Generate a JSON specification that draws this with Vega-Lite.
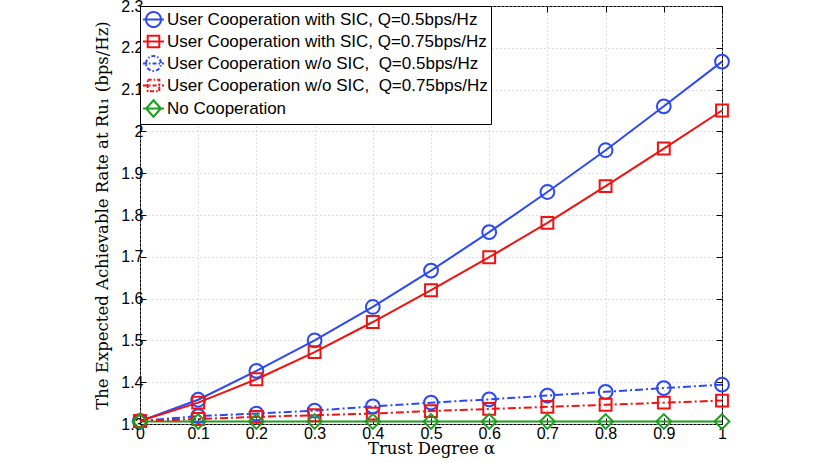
{
  "$schema": "https://vega.github.io/schema/vega-lite/v6.json",
  "width": 582,
  "height": 418,
  "autosize": {"type": "none"},
  "padding": {"left": 140, "top": 6, "right": 108, "bottom": 38},
  "background": "white",
  "config": {
    "view": {"stroke": "black", "strokeWidth": 1},
    "axis": {
      "labelFont": "Liberation Sans",
      "labelFontSize": 16,
      "labelColor": "black",
      "titleFont": "DejaVu Serif",
      "titleFontSize": 16.5,
      "titleFontWeight": "normal",
      "titleColor": "black",
      "domain": false,
      "tickColor": "black",
      "tickSize": -6,
      "gridColor": "#bdbdbd",
      "gridDash": [1, 3],
      "gridWidth": 1
    },
    "legend": {
      "labelFont": "Liberation Sans",
      "labelFontSize": 17,
      "labelColor": "black"
    }
  },
  "data": {
    "values": [
      {"alpha": 0.0, "series": "User Cooperation with SIC, Q=0.5bps/Hz", "rate": 1.307},
      {"alpha": 0.1, "series": "User Cooperation with SIC, Q=0.5bps/Hz", "rate": 1.358},
      {"alpha": 0.2, "series": "User Cooperation with SIC, Q=0.5bps/Hz", "rate": 1.427},
      {"alpha": 0.3, "series": "User Cooperation with SIC, Q=0.5bps/Hz", "rate": 1.500},
      {"alpha": 0.4, "series": "User Cooperation with SIC, Q=0.5bps/Hz", "rate": 1.580},
      {"alpha": 0.5, "series": "User Cooperation with SIC, Q=0.5bps/Hz", "rate": 1.667},
      {"alpha": 0.6, "series": "User Cooperation with SIC, Q=0.5bps/Hz", "rate": 1.759},
      {"alpha": 0.7, "series": "User Cooperation with SIC, Q=0.5bps/Hz", "rate": 1.855},
      {"alpha": 0.8, "series": "User Cooperation with SIC, Q=0.5bps/Hz", "rate": 1.955},
      {"alpha": 0.9, "series": "User Cooperation with SIC, Q=0.5bps/Hz", "rate": 2.060},
      {"alpha": 1.0, "series": "User Cooperation with SIC, Q=0.5bps/Hz", "rate": 2.167},
      {"alpha": 0.0, "series": "User Cooperation with SIC, Q=0.75bps/Hz", "rate": 1.307},
      {"alpha": 0.1, "series": "User Cooperation with SIC, Q=0.75bps/Hz", "rate": 1.351},
      {"alpha": 0.2, "series": "User Cooperation with SIC, Q=0.75bps/Hz", "rate": 1.407},
      {"alpha": 0.3, "series": "User Cooperation with SIC, Q=0.75bps/Hz", "rate": 1.472},
      {"alpha": 0.4, "series": "User Cooperation with SIC, Q=0.75bps/Hz", "rate": 1.544},
      {"alpha": 0.5, "series": "User Cooperation with SIC, Q=0.75bps/Hz", "rate": 1.620},
      {"alpha": 0.6, "series": "User Cooperation with SIC, Q=0.75bps/Hz", "rate": 1.699},
      {"alpha": 0.7, "series": "User Cooperation with SIC, Q=0.75bps/Hz", "rate": 1.781},
      {"alpha": 0.8, "series": "User Cooperation with SIC, Q=0.75bps/Hz", "rate": 1.869},
      {"alpha": 0.9, "series": "User Cooperation with SIC, Q=0.75bps/Hz", "rate": 1.959},
      {"alpha": 1.0, "series": "User Cooperation with SIC, Q=0.75bps/Hz", "rate": 2.050},
      {"alpha": 0.0, "series": "User Cooperation w/o SIC,\u00a0 Q=0.5bps/Hz", "rate": 1.307},
      {"alpha": 0.1, "series": "User Cooperation w/o SIC,\u00a0 Q=0.5bps/Hz", "rate": 1.319},
      {"alpha": 0.2, "series": "User Cooperation w/o SIC,\u00a0 Q=0.5bps/Hz", "rate": 1.325},
      {"alpha": 0.3, "series": "User Cooperation w/o SIC,\u00a0 Q=0.5bps/Hz", "rate": 1.332},
      {"alpha": 0.4, "series": "User Cooperation w/o SIC,\u00a0 Q=0.5bps/Hz", "rate": 1.342},
      {"alpha": 0.5, "series": "User Cooperation w/o SIC,\u00a0 Q=0.5bps/Hz", "rate": 1.351},
      {"alpha": 0.6, "series": "User Cooperation w/o SIC,\u00a0 Q=0.5bps/Hz", "rate": 1.359},
      {"alpha": 0.7, "series": "User Cooperation w/o SIC,\u00a0 Q=0.5bps/Hz", "rate": 1.368},
      {"alpha": 0.8, "series": "User Cooperation w/o SIC,\u00a0 Q=0.5bps/Hz", "rate": 1.377},
      {"alpha": 0.9, "series": "User Cooperation w/o SIC,\u00a0 Q=0.5bps/Hz", "rate": 1.386},
      {"alpha": 1.0, "series": "User Cooperation w/o SIC,\u00a0 Q=0.5bps/Hz", "rate": 1.394},
      {"alpha": 0.0, "series": "User Cooperation w/o SIC,\u00a0 Q=0.75bps/Hz", "rate": 1.307},
      {"alpha": 0.1, "series": "User Cooperation w/o SIC,\u00a0 Q=0.75bps/Hz", "rate": 1.312},
      {"alpha": 0.2, "series": "User Cooperation w/o SIC,\u00a0 Q=0.75bps/Hz", "rate": 1.317},
      {"alpha": 0.3, "series": "User Cooperation w/o SIC,\u00a0 Q=0.75bps/Hz", "rate": 1.321},
      {"alpha": 0.4, "series": "User Cooperation w/o SIC,\u00a0 Q=0.75bps/Hz", "rate": 1.325},
      {"alpha": 0.5, "series": "User Cooperation w/o SIC,\u00a0 Q=0.75bps/Hz", "rate": 1.331},
      {"alpha": 0.6, "series": "User Cooperation w/o SIC,\u00a0 Q=0.75bps/Hz", "rate": 1.336},
      {"alpha": 0.7, "series": "User Cooperation w/o SIC,\u00a0 Q=0.75bps/Hz", "rate": 1.341},
      {"alpha": 0.8, "series": "User Cooperation w/o SIC,\u00a0 Q=0.75bps/Hz", "rate": 1.346},
      {"alpha": 0.9, "series": "User Cooperation w/o SIC,\u00a0 Q=0.75bps/Hz", "rate": 1.351},
      {"alpha": 1.0, "series": "User Cooperation w/o SIC,\u00a0 Q=0.75bps/Hz", "rate": 1.356},
      {"alpha": 0.0, "series": "No Cooperation", "rate": 1.306},
      {"alpha": 0.1, "series": "No Cooperation", "rate": 1.306},
      {"alpha": 0.2, "series": "No Cooperation", "rate": 1.306},
      {"alpha": 0.3, "series": "No Cooperation", "rate": 1.306},
      {"alpha": 0.4, "series": "No Cooperation", "rate": 1.306},
      {"alpha": 0.5, "series": "No Cooperation", "rate": 1.306},
      {"alpha": 0.6, "series": "No Cooperation", "rate": 1.306},
      {"alpha": 0.7, "series": "No Cooperation", "rate": 1.306},
      {"alpha": 0.8, "series": "No Cooperation", "rate": 1.306},
      {"alpha": 0.9, "series": "No Cooperation", "rate": 1.306},
      {"alpha": 1.0, "series": "No Cooperation", "rate": 1.306}
    ]
  },
  "encoding": {
    "color": {
      "field": "series",
      "type": "nominal",
      "scale": {
        "domain": [
          "User Cooperation with SIC, Q=0.5bps/Hz",
          "User Cooperation with SIC, Q=0.75bps/Hz",
          "User Cooperation w/o SIC,\u00a0 Q=0.5bps/Hz",
          "User Cooperation w/o SIC,\u00a0 Q=0.75bps/Hz",
          "No Cooperation"
        ],
        "range": ["#2a48f5", "#f01212", "#2a48f5", "#f01212", "#1e9e1e"]
      },
      "legend": {
        "title": null,
        "orient": "top-left",
        "offset": 0,
        "padding": 3,
        "strokeColor": "black",
        "fillColor": "white",
        "cornerRadius": 0,
        "symbolSize": 350,
        "symbolStrokeWidth": 2,
        "labelOffset": 3,
        "rowPadding": 0,
        "labelLimit": 400,
        "encode": {
          "symbols": {
            "update": {
              "fill": {"value": "transparent"},
              "shape": {"signal": "datum.value == 'No Cooperation' ? 'M-1.12,0H1.12M0,-0.88L0.78,0L0,0.88L-0.78,0Z' : indexof(datum.value, '0.75') >= 0 ? 'M-1.12,0H1.12M-0.62,-0.62H0.62V0.62H-0.62Z' : 'M-1.12,0H1.12M-0.8,0A0.8,0.8,0,1,1,0.8,0A0.8,0.8,0,1,1,-0.8,0'"},
              "strokeDash": {"signal": "indexof(datum.value, 'w/o') >= 0 ? [4, 2, 1.5, 2] : [1, 0]"}
            }
          }
        }
      }
    }
  },
  "layer": [
    {
      "transform": [{"filter": "indexof(datum.series, 'w/o') < 0"}],
      "mark": {"type": "line", "strokeWidth": 2},
      "encoding": {
        "x": {
          "field": "alpha",
          "type": "quantitative",
          "scale": {"domain": [0, 1], "nice": false},
          "axis": {
            "orient": "bottom",
            "title": "Trust Degree α",
            "values": [0, 0.1, 0.2, 0.3, 0.4, 0.5, 0.6, 0.7, 0.8, 0.9, 1],
            "format": "~g",
            "labelPadding": 7,
            "titlePadding": -1,
            "labelFlush": false
          }
        },
        "y": {
          "field": "rate",
          "type": "quantitative",
          "scale": {"domain": [1.3, 2.3], "nice": false, "zero": false},
          "axis": {
            "orient": "left",
            "title": "The Expected Achievable Rate at Ru₁ (bps/Hz)",
            "values": [1.3, 1.4, 1.5, 1.6, 1.7, 1.8, 1.9, 2, 2.1, 2.2, 2.3],
            "format": "~g",
            "labelPadding": 3,
            "titlePadding": 10,
            "labelFlush": false
          }
        }
      }
    },
    {
      "transform": [{"filter": "indexof(datum.series, 'w/o') >= 0"}],
      "mark": {"type": "line", "strokeWidth": 2, "strokeDash": [8, 3, 2, 3]},
      "encoding": {
        "x": {"field": "alpha", "type": "quantitative", "axis": null},
        "y": {"field": "rate", "type": "quantitative", "axis": null}
      }
    },
    {
      "transform": [{"filter": "indexof(datum.series, '0.5bps') >= 0"}],
      "mark": {"type": "point", "shape": "circle", "size": 190, "filled": false, "strokeWidth": 2, "opacity": 1},
      "encoding": {
        "x": {"field": "alpha", "type": "quantitative", "axis": null},
        "y": {"field": "rate", "type": "quantitative", "axis": null}
      }
    },
    {
      "transform": [{"filter": "indexof(datum.series, '0.75bps') >= 0"}],
      "mark": {"type": "point", "shape": "square", "size": 140, "filled": false, "strokeWidth": 2, "opacity": 1},
      "encoding": {
        "x": {"field": "alpha", "type": "quantitative", "axis": null},
        "y": {"field": "rate", "type": "quantitative", "axis": null}
      }
    },
    {
      "transform": [{"filter": "datum.series == 'No Cooperation'"}],
      "mark": {"type": "point", "shape": "diamond", "size": 220, "filled": false, "strokeWidth": 2, "opacity": 1},
      "encoding": {
        "x": {
          "field": "alpha",
          "type": "quantitative",
          "axis": {
            "orient": "top",
            "title": null,
            "labels": false,
            "grid": false,
            "values": [0, 0.1, 0.2, 0.3, 0.4, 0.5, 0.6, 0.7, 0.8, 0.9, 1]
          }
        },
        "y": {
          "field": "rate",
          "type": "quantitative",
          "axis": {
            "orient": "right",
            "title": null,
            "labels": false,
            "grid": false,
            "values": [1.3, 1.4, 1.5, 1.6, 1.7, 1.8, 1.9, 2, 2.1, 2.2, 2.3]
          }
        }
      }
    }
  ],
  "resolve": {"axis": {"x": "independent", "y": "independent"}}
}
